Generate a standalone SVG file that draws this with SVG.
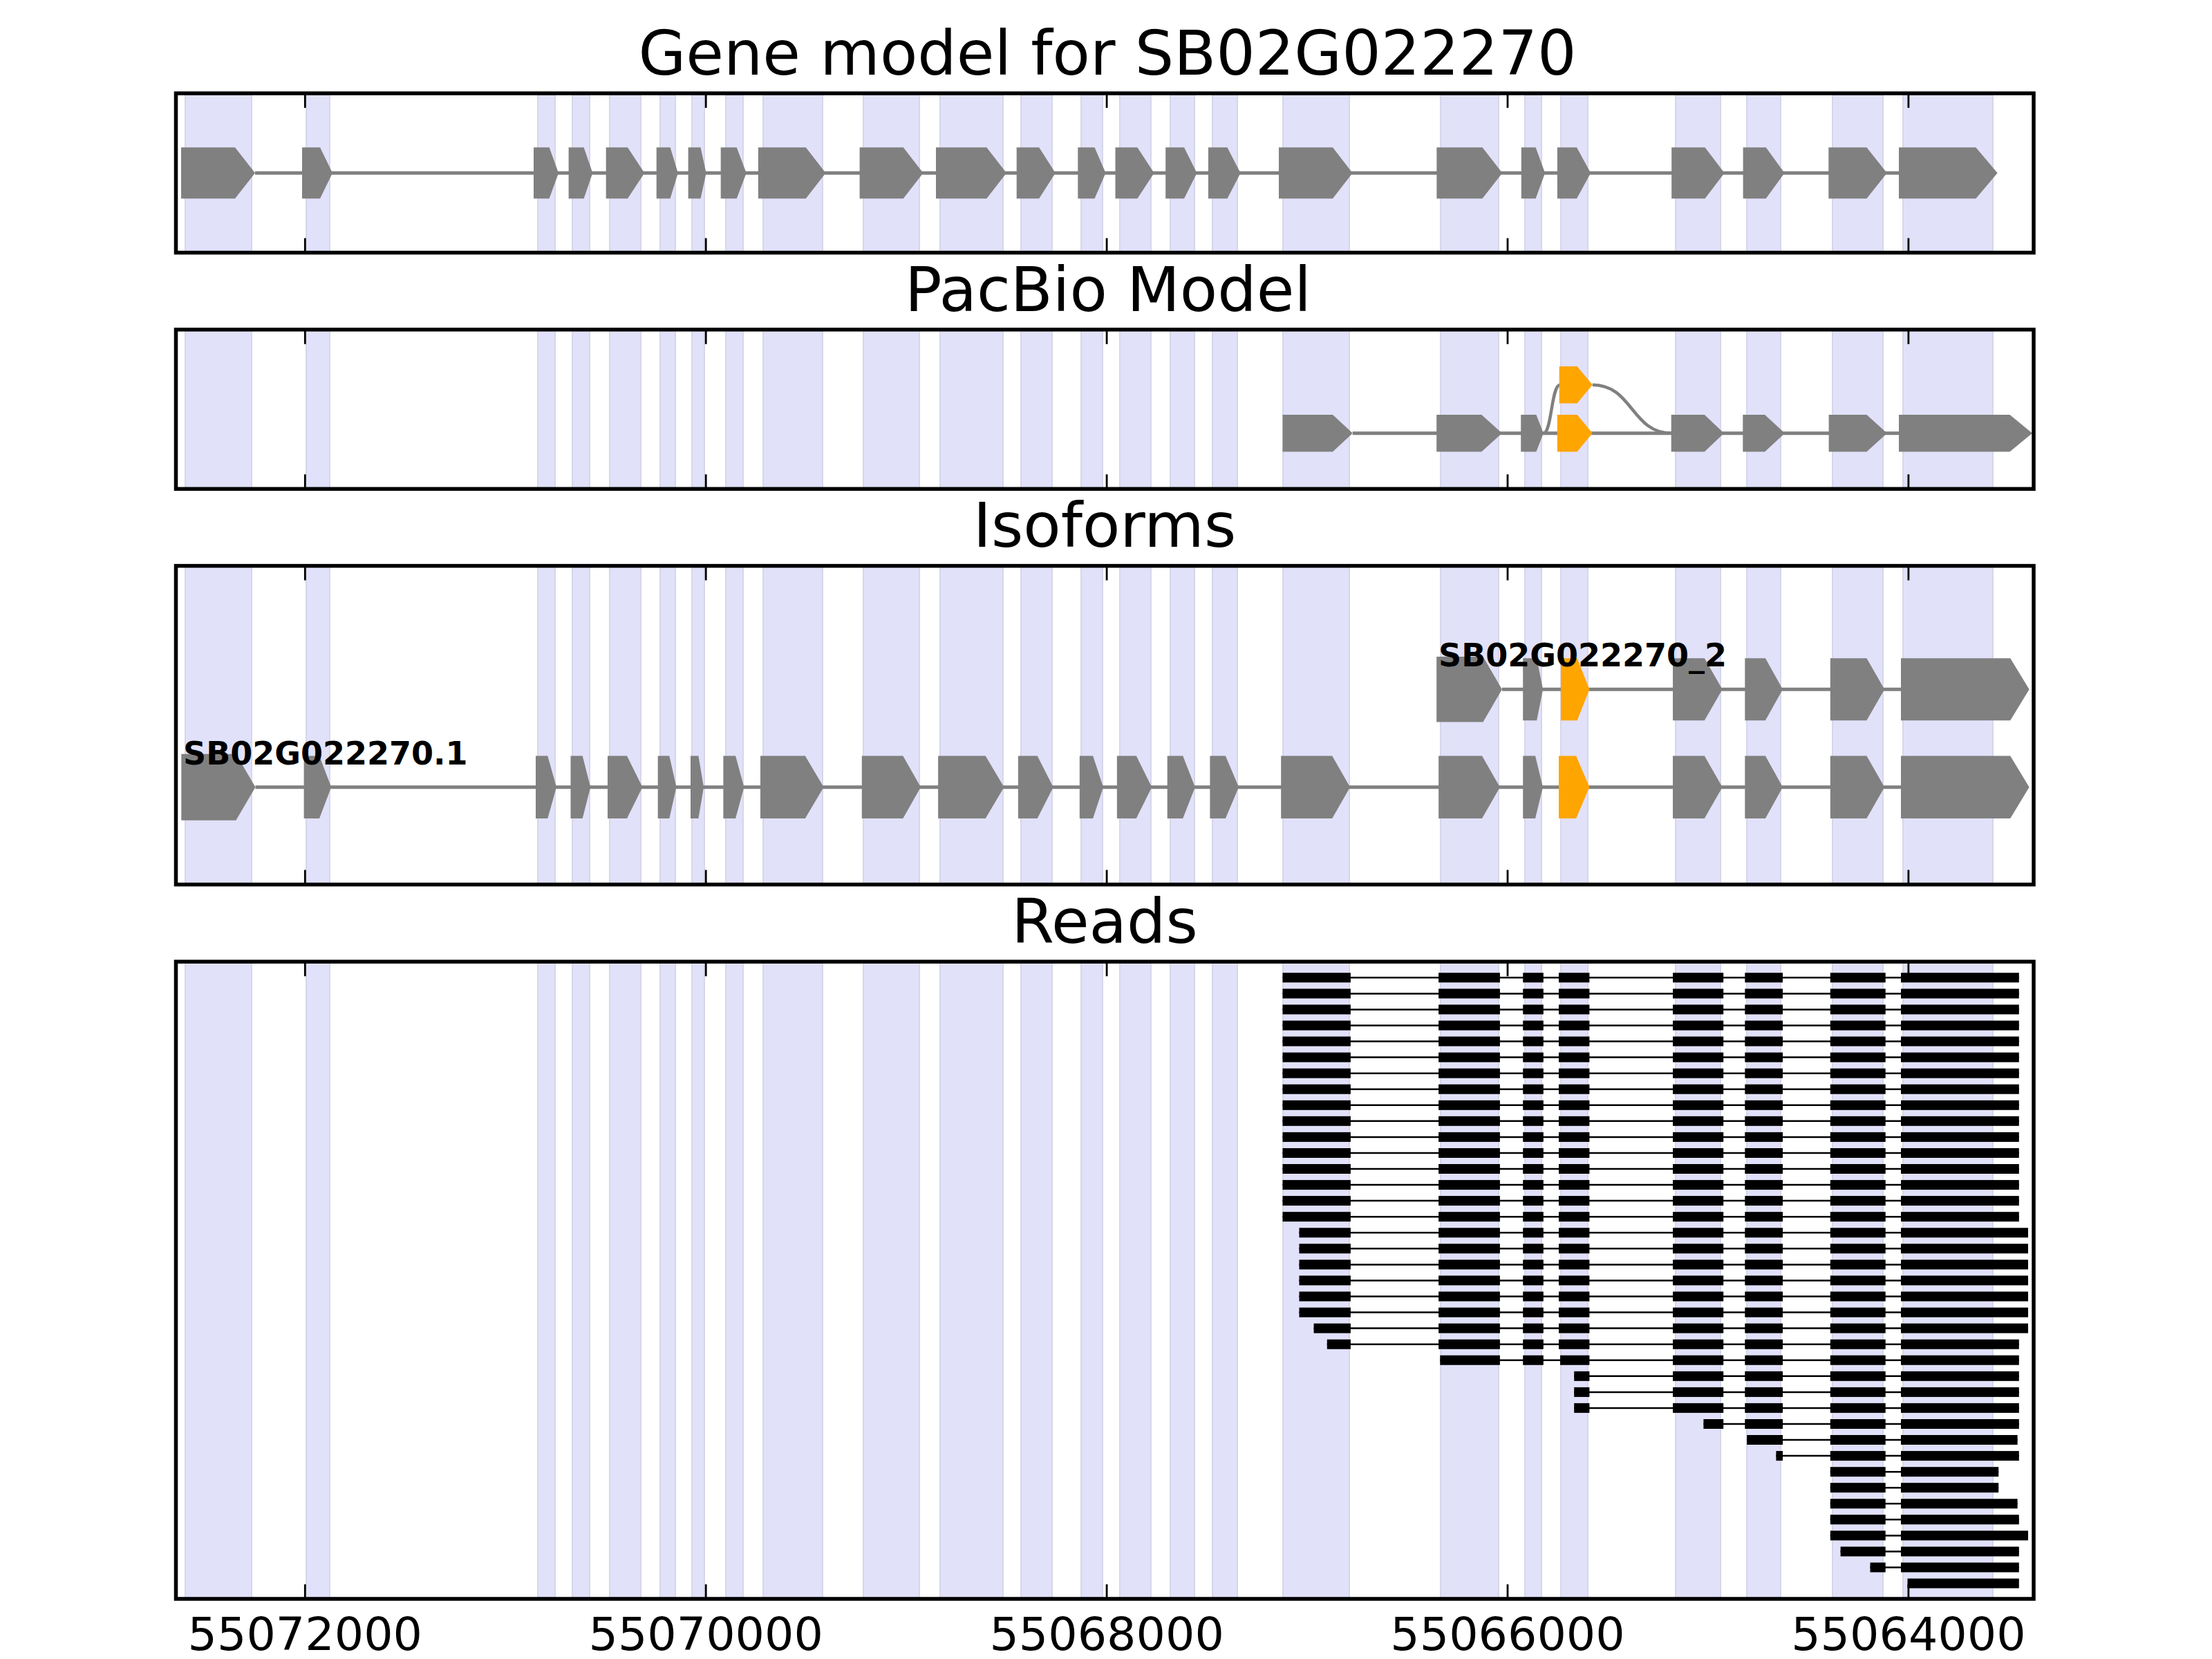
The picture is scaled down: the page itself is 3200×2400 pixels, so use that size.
<svg xmlns="http://www.w3.org/2000/svg" xmlns:xlink="http://www.w3.org/1999/xlink" width="3200" height="2400" viewBox="0 0 3200 2400">
<style>
.band{fill:#e1e1fa;stroke:#d6d6ea;stroke-width:2;vector-effect:non-scaling-stroke}
.ex{fill:#808080}
.ox{fill:#ffa500}
.gl{stroke:#808080;stroke-width:5;fill:none}
.rl{stroke:#000;stroke-width:2.5}
.frame{fill:none;stroke:#000;stroke-width:5.5}
.tick{stroke:#000;stroke-width:2.8;fill:none}
.title{font-family:"DejaVu Sans",sans-serif;font-size:88.9px;text-anchor:middle;fill:#000}
.tl{font-family:"DejaVu Sans",sans-serif;font-size:66.7px;text-anchor:middle;fill:#000}
.lab{font-family:"DejaVu Sans",sans-serif;font-size:46px;font-weight:bold;fill:#000}
</style>
<defs>
<g id="bands">
<rect class="band" x="268" y="0" width="96" height="1"/>
<rect class="band" x="443" y="0" width="34" height="1"/>
<rect class="band" x="778" y="0" width="25" height="1"/>
<rect class="band" x="828" y="0" width="25" height="1"/>
<rect class="band" x="882" y="0" width="45" height="1"/>
<rect class="band" x="955" y="0" width="22" height="1"/>
<rect class="band" x="1001" y="0" width="18" height="1"/>
<rect class="band" x="1050" y="0" width="25" height="1"/>
<rect class="band" x="1104" y="0" width="86" height="1"/>
<rect class="band" x="1249" y="0" width="81" height="1"/>
<rect class="band" x="1360" y="0" width="91" height="1"/>
<rect class="band" x="1477" y="0" width="45" height="1"/>
<rect class="band" x="1564" y="0" width="31" height="1"/>
<rect class="band" x="1620" y="0" width="45" height="1"/>
<rect class="band" x="1693" y="0" width="35" height="1"/>
<rect class="band" x="1754" y="0" width="36" height="1"/>
<rect class="band" x="1856" y="0" width="96" height="1"/>
<rect class="band" x="2084" y="0" width="84" height="1"/>
<rect class="band" x="2206" y="0" width="24" height="1"/>
<rect class="band" x="2258" y="0" width="39" height="1"/>
<rect class="band" x="2424" y="0" width="65" height="1"/>
<rect class="band" x="2527" y="0" width="49" height="1"/>
<rect class="band" x="2651" y="0" width="73" height="1"/>
<rect class="band" x="2753" y="0" width="130" height="1"/>
</g>
<g id="m2">
<rect x="2420" y="-7" width="73.2" height="14"/>
<rect x="2524.3" y="-7" width="54.7" height="14"/>
<rect x="2647.8" y="-7" width="79.9" height="14"/>
</g>
<g id="m">
<rect x="2081.1" y="-7" width="88.8" height="14"/>
<rect x="2203.2" y="-7" width="29.6" height="14"/>
<rect x="2255" y="-7" width="44.4" height="14"/>
<use xlink:href="#m2"/>
</g>
<g id="rA"><line class="rl" x1="1855.5" y1="0" x2="2920.8" y2="0"/><rect x="1855.5" y="-7" width="98.4" height="14"/><use xlink:href="#m"/><rect x="2750" y="-7" width="170.8" height="14"/></g>
<g id="rB"><line class="rl" x1="1879.5" y1="0" x2="2934" y2="0"/><rect x="1879.5" y="-7" width="74.4" height="14"/><use xlink:href="#m"/><rect x="2750" y="-7" width="184" height="14"/></g>
<g id="rC"><line class="rl" x1="1900.6" y1="0" x2="2934" y2="0"/><rect x="1900.6" y="-7" width="53.3" height="14"/><use xlink:href="#m"/><rect x="2750" y="-7" width="184" height="14"/></g>
<g id="rD"><line class="rl" x1="1919.8" y1="0" x2="2920.8" y2="0"/><rect x="1919.8" y="-7" width="34.1" height="14"/><use xlink:href="#m"/><rect x="2750" y="-7" width="170.8" height="14"/></g>
<g id="rE"><line class="rl" x1="2083.3" y1="0" x2="2920.8" y2="0"/><rect x="2083.3" y="-7" width="86.6" height="14"/><rect x="2203.2" y="-7" width="29.6" height="14"/><rect x="2257" y="-7" width="42.4" height="14"/><use xlink:href="#m2"/><rect x="2750" y="-7" width="170.8" height="14"/></g>
<g id="rF"><line class="rl" x1="2277.2" y1="0" x2="2920.8" y2="0"/><rect x="2277.2" y="-7" width="22.2" height="14"/><use xlink:href="#m2"/><rect x="2750" y="-7" width="170.8" height="14"/></g>
<g id="rG"><line class="rl" x1="2464.4" y1="0" x2="2920.8" y2="0"/><rect x="2464.4" y="-7" width="28.8" height="14"/><rect x="2524.3" y="-7" width="54.7" height="14"/><rect x="2647.8" y="-7" width="79.9" height="14"/><rect x="2750" y="-7" width="170.8" height="14"/></g>
<g id="rH"><line class="rl" x1="2527.2" y1="0" x2="2918.6" y2="0"/><rect x="2527.2" y="-7" width="51.8" height="14"/><rect x="2647.8" y="-7" width="79.9" height="14"/><rect x="2750" y="-7" width="168.6" height="14"/></g>
<g id="rI"><line class="rl" x1="2569.4" y1="0" x2="2920.8" y2="0"/><rect x="2569.4" y="-7" width="9.6" height="14"/><rect x="2647.8" y="-7" width="79.9" height="14"/><rect x="2750" y="-7" width="170.8" height="14"/></g>
<g id="rJ"><line class="rl" x1="2647.8" y1="0" x2="2891.2" y2="0"/><rect x="2647.8" y="-7" width="79.9" height="14"/><rect x="2750" y="-7" width="141.2" height="14"/></g>
<g id="rK"><line class="rl" x1="2647.8" y1="0" x2="2918.6" y2="0"/><rect x="2647.8" y="-7" width="79.9" height="14"/><rect x="2750" y="-7" width="168.6" height="14"/></g>
<g id="rL"><line class="rl" x1="2647.8" y1="0" x2="2920.8" y2="0"/><rect x="2647.8" y="-7" width="79.9" height="14"/><rect x="2750" y="-7" width="170.8" height="14"/></g>
<g id="rM"><line class="rl" x1="2647.8" y1="0" x2="2934" y2="0"/><rect x="2647.8" y="-7" width="79.9" height="14"/><rect x="2750" y="-7" width="184" height="14"/></g>
<g id="rN"><line class="rl" x1="2662.6" y1="0" x2="2920.8" y2="0"/><rect x="2662.6" y="-7" width="65.1" height="14"/><rect x="2750" y="-7" width="170.8" height="14"/></g>
<g id="rO"><line class="rl" x1="2705.5" y1="0" x2="2920.8" y2="0"/><rect x="2705.5" y="-7" width="22.2" height="14"/><rect x="2750" y="-7" width="170.8" height="14"/></g>
<g id="rP"><rect x="2759.5" y="-7" width="161.3" height="14"/></g>
</defs>
<rect x="0" y="0" width="3200" height="2400" fill="#fff"/>

<!-- Panel 1: Gene model -->
<g id="panel-gene-model">
<text class="title" x="1602" y="108">Gene model for SB02G022270</text>
<use xlink:href="#bands" transform="translate(0,135) scale(1,230.5)"/>
<line class="gl" x1="369" y1="250.3" x2="2747" y2="250.3"/>
<g class="ex">
<polygon points="262,213.3 340,213.3 369,250.3 340,287.3 262,287.3"/>
<polygon points="437,213.3 463,213.3 481,250.3 463,287.3 437,287.3"/>
<polygon points="772,213.3 794.6,213.3 808,250.3 794.6,287.3 772,287.3"/>
<polygon points="822.6,213.3 844.6,213.3 857.3,250.3 844.6,287.3 822.6,287.3"/>
<polygon points="876.7,213.3 908,213.3 932.3,250.3 908,287.3 876.7,287.3"/>
<polygon points="949.7,213.3 969.6,213.3 980.8,250.3 969.6,287.3 949.7,287.3"/>
<polygon points="995.6,213.3 1013.5,213.3 1021.6,250.3 1013.5,287.3 995.6,287.3"/>
<polygon points="1042.7,213.3 1065.7,213.3 1079.7,250.3 1065.7,287.3 1042.7,287.3"/>
<polygon points="1096.9,213.3 1165.8,213.3 1194.5,250.3 1165.8,287.3 1096.9,287.3"/>
<polygon points="1243.6,213.3 1306.8,213.3 1335.5,250.3 1306.8,287.3 1243.6,287.3"/>
<polygon points="1354,213.3 1427.3,213.3 1456,250.3 1427.3,287.3 1354,287.3"/>
<polygon points="1470.7,213.3 1503.2,213.3 1526.8,250.3 1503.2,287.3 1470.7,287.3"/>
<polygon points="1559.3,213.3 1583.5,213.3 1599.5,250.3 1583.5,287.3 1559.3,287.3"/>
<polygon points="1613.5,213.3 1645.4,213.3 1669.6,250.3 1645.4,287.3 1613.5,287.3"/>
<polygon points="1686.2,213.3 1713,213.3 1731.5,250.3 1713,287.3 1686.2,287.3"/>
<polygon points="1748,213.3 1775.5,213.3 1794.6,250.3 1775.5,287.3 1748,287.3"/>
<polygon points="1850,213.3 1928,213.3 1956.6,250.3 1928,287.3 1850,287.3"/>
<polygon points="2078.4,213.3 2144.5,213.3 2173.3,250.3 2144.5,287.3 2078.4,287.3"/>
<polygon points="2200.8,213.3 2221.6,213.3 2235.1,250.3 2221.6,287.3 2200.8,287.3"/>
<polygon points="2252.9,213.3 2281,213.3 2301.2,250.3 2281,287.3 2252.9,287.3"/>
<polygon points="2418.2,213.3 2466.5,213.3 2494.7,250.3 2466.5,287.3 2418.2,287.3"/>
<polygon points="2521.6,213.3 2554.7,213.3 2581.6,250.3 2554.7,287.3 2521.6,287.3"/>
<polygon points="2645.3,213.3 2700.4,213.3 2729.8,250.3 2700.4,287.3 2645.3,287.3"/>
<polygon points="2747,213.3 2858.4,213.3 2889.6,250.3 2858.4,287.3 2747,287.3"/>
</g>
<rect class="frame" x="254.5" y="135" width="2687.5" height="230.5"/>
<path class="tick" d="M441.3,135V156M1021.2,135V156M1601.1,135V156M2181,135V156M2760.9,135V156M441.3,365.5V344.5M1021.2,365.5V344.5M1601.1,365.5V344.5M2181,365.5V344.5M2760.9,365.5V344.5"/>
</g>

<!-- Panel 2: PacBio Model -->
<g id="panel-pacbio">
<text class="title" x="1603" y="449.5">PacBio Model</text>
<use xlink:href="#bands" transform="translate(0,476.8) scale(1,230.5)"/>
<g id="pacbio-connectors">
<line class="gl" x1="1956.8" y1="626.7" x2="2747" y2="626.7"/>
<path class="gl" style="stroke-width:4.5" d="M2232.8,626.7 C2245,626.7 2244,556.7 2257,556.7"/>
<path class="gl" style="stroke-width:4.5" d="M2303.8,556.7 C2362,556.7 2360,626.7 2418,626.7"/>
</g>
<g class="ex">
<polygon points="1855.5,600 1928,600 1956.8,626.7 1928,653.4 1855.5,653.4"/>
<polygon points="2078.2,600 2143.3,600 2172.9,626.7 2143.3,653.4 2078.2,653.4"/>
<polygon points="2200.2,600 2222.4,600 2232.8,626.7 2222.4,653.4 2200.2,653.4"/>
<polygon points="2417.7,600 2465.8,600 2494,626.7 2465.8,653.4 2417.7,653.4"/>
<polygon points="2521.3,600 2553.1,600 2582,626.7 2553.1,653.4 2521.3,653.4"/>
<polygon points="2645.6,600 2700.4,600 2730,626.7 2700.4,653.4 2645.6,653.4"/>
<polygon points="2747,600 2907.5,600 2940,626.7 2907.5,653.4 2747,653.4"/>
</g>
<g class="ox">
<polygon points="2252.8,600 2281.6,600 2303.8,626.7 2281.6,653.4 2252.8,653.4"/>
<polygon points="2255.7,530 2281.6,530 2303.8,556.7 2281.6,583.4 2255.7,583.4"/>
</g>
<rect class="frame" x="254.5" y="476.8" width="2687.5" height="230.5"/>
<path class="tick" d="M441.3,476.8V497.8M1021.2,476.8V497.8M1601.1,476.8V497.8M2181,476.8V497.8M2760.9,476.8V497.8M441.3,707.3V686.3M1021.2,707.3V686.3M1601.1,707.3V686.3M2181,707.3V686.3M2760.9,707.3V686.3"/>
</g>

<!-- Panel 3: Isoforms -->
<g id="panel-isoforms">
<text class="title" x="1598" y="791.3">Isoforms</text>
<use xlink:href="#bands" transform="translate(0,818.6) scale(1,461)"/>
<g id="isoform-2">
<line class="gl" x1="2172.9" y1="997.3" x2="2750" y2="997.3"/>
<g class="ex">
<polygon points="2078.2,950 2145.5,950 2172.9,997.3 2145.5,1044.6 2078.2,1044.6"/>
<polygon points="2203.2,952.3 2223.2,952.3 2232.1,997.3 2223.2,1042.3 2203.2,1042.3"/>
<polygon points="2420,952.3 2465.8,952.3 2491.7,997.3 2465.8,1042.3 2420,1042.3"/>
<polygon points="2524.3,952.3 2553.9,952.3 2579,997.3 2553.9,1042.3 2524.3,1042.3"/>
<polygon points="2647.8,952.3 2700.4,952.3 2726.2,997.3 2700.4,1042.3 2647.8,1042.3"/>
<polygon points="2750,952.3 2908.2,952.3 2935.6,997.3 2908.2,1042.3 2750,1042.3"/>
</g>
<polygon class="ox" points="2258,952.3 2281.6,952.3 2299.4,997.3 2281.6,1042.3 2258,1042.3"/>
<text class="lab" x="2081" y="964">SB02G022270_2</text>
</g>
<g id="isoform-1">
<line class="gl" x1="369.5" y1="1138.7" x2="2750" y2="1138.7"/>
<g class="ex">
<polygon points="262.3,1090.7 341.4,1090.7 369.5,1138.7 341.4,1186.7 262.3,1186.7"/>
<polygon points="439.6,1093.4 462,1093.4 479.2,1138.7 462,1184 439.6,1184"/>
<polygon points="775,1093.4 792.3,1093.4 805,1138.7 792.3,1184 775,1184"/>
<polygon points="825.5,1093.4 842.7,1093.4 854.2,1138.7 842.7,1184 825.5,1184"/>
<polygon points="879,1093.4 907,1093.4 929.4,1138.7 907,1184 879,1184"/>
<polygon points="951.7,1093.4 968.3,1093.4 978.5,1138.7 968.3,1184 951.7,1184"/>
<polygon points="999,1093.4 1010.4,1093.4 1018,1138.7 1010.4,1184 999,1184"/>
<polygon points="1046.4,1093.4 1064.1,1093.4 1076.4,1138.7 1064.1,1184 1046.4,1184"/>
<polygon points="1100,1093.4 1164.8,1093.4 1191.6,1138.7 1164.8,1184 1100,1184"/>
<polygon points="1246.8,1093.4 1306.3,1093.4 1332,1138.7 1306.3,1184 1246.8,1184"/>
<polygon points="1357.1,1093.4 1425.7,1093.4 1452.5,1138.7 1425.7,1184 1357.1,1184"/>
<polygon points="1472.9,1093.4 1500.7,1093.4 1523.7,1138.7 1500.7,1184 1472.9,1184"/>
<polygon points="1561.8,1093.4 1581.1,1093.4 1596.1,1138.7 1581.1,1184 1561.8,1184"/>
<polygon points="1615.9,1093.4 1643.8,1093.4 1666.3,1138.7 1643.8,1184 1615.9,1184"/>
<polygon points="1688.7,1093.4 1711.2,1093.4 1728.9,1138.7 1711.2,1184 1688.7,1184"/>
<polygon points="1750.4,1093.4 1772.9,1093.4 1792.1,1138.7 1772.9,1184 1750.4,1184"/>
<polygon points="1853.2,1093.4 1927.2,1093.4 1953.1,1138.7 1927.2,1184 1853.2,1184"/>
<polygon points="2081.1,1093.4 2144,1093.4 2169.9,1138.7 2144,1184 2081.1,1184"/>
<polygon points="2203.2,1093.4 2221,1093.4 2232,1138.7 2221,1184 2203.2,1184"/>
<polygon points="2420,1093.4 2465.8,1093.4 2491.7,1138.7 2465.8,1184 2420,1184"/>
<polygon points="2524.3,1093.4 2553.9,1093.4 2579,1138.7 2553.9,1184 2524.3,1184"/>
<polygon points="2647.8,1093.4 2700.4,1093.4 2726.2,1138.7 2700.4,1184 2647.8,1184"/>
<polygon points="2750,1093.4 2908.2,1093.4 2935.6,1138.7 2908.2,1184 2750,1184"/>
</g>
<polygon class="ox" points="2255,1093.4 2280.1,1093.4 2299.4,1138.7 2280.1,1184 2255,1184"/>
<text class="lab" x="265" y="1106">SB02G022270.1</text>
</g>
<rect class="frame" x="254.5" y="818.6" width="2687.5" height="461"/>
<path class="tick" d="M441.3,818.6V839.6M1021.2,818.6V839.6M1601.1,818.6V839.6M2181,818.6V839.6M2760.9,818.6V839.6M441.3,1279.6V1258.6M1021.2,1279.6V1258.6M1601.1,1279.6V1258.6M2181,1279.6V1258.6M2760.9,1279.6V1258.6"/>
</g>

<!-- Panel 4: Reads -->
<g id="panel-reads">
<text class="title" x="1598" y="1364">Reads</text>
<use xlink:href="#bands" transform="translate(0,1391.2) scale(1,921.8)"/>
<g id="reads" fill="#000">
<use xlink:href="#rA" y="1414.3"/>
<use xlink:href="#rA" y="1437.4"/>
<use xlink:href="#rA" y="1460.4"/>
<use xlink:href="#rA" y="1483.5"/>
<use xlink:href="#rA" y="1506.5"/>
<use xlink:href="#rA" y="1529.6"/>
<use xlink:href="#rA" y="1552.7"/>
<use xlink:href="#rA" y="1575.7"/>
<use xlink:href="#rA" y="1598.8"/>
<use xlink:href="#rA" y="1621.8"/>
<use xlink:href="#rA" y="1644.9"/>
<use xlink:href="#rA" y="1668"/>
<use xlink:href="#rA" y="1691"/>
<use xlink:href="#rA" y="1714.1"/>
<use xlink:href="#rA" y="1737.1"/>
<use xlink:href="#rA" y="1760.2"/>
<use xlink:href="#rB" y="1783.3"/>
<use xlink:href="#rB" y="1806.3"/>
<use xlink:href="#rB" y="1829.4"/>
<use xlink:href="#rB" y="1852.4"/>
<use xlink:href="#rB" y="1875.5"/>
<use xlink:href="#rB" y="1898.6"/>
<use xlink:href="#rC" y="1921.6"/>
<use xlink:href="#rD" y="1944.7"/>
<use xlink:href="#rE" y="1967.7"/>
<use xlink:href="#rF" y="1990.8"/>
<use xlink:href="#rF" y="2013.9"/>
<use xlink:href="#rF" y="2036.9"/>
<use xlink:href="#rG" y="2060"/>
<use xlink:href="#rH" y="2083"/>
<use xlink:href="#rI" y="2106.1"/>
<use xlink:href="#rJ" y="2129.2"/>
<use xlink:href="#rJ" y="2152.2"/>
<use xlink:href="#rK" y="2175.3"/>
<use xlink:href="#rL" y="2198.3"/>
<use xlink:href="#rM" y="2221.4"/>
<use xlink:href="#rN" y="2244.5"/>
<use xlink:href="#rO" y="2267.5"/>
<use xlink:href="#rP" y="2290.6"/>
</g>
<rect class="frame" x="254.5" y="1391.2" width="2687.5" height="921.8"/>
<path class="tick" d="M441.3,1391.2V1412.2M1021.2,1391.2V1412.2M1601.1,1391.2V1412.2M2181,1391.2V1412.2M2760.9,1391.2V1412.2M441.3,2313V2292M1021.2,2313V2292M1601.1,2313V2292M2181,2313V2292M2760.9,2313V2292"/>
</g>

<g id="x-axis-labels">
<text class="tl" x="441.3" y="2386.7">55072000</text>
<text class="tl" x="1021.2" y="2386.7">55070000</text>
<text class="tl" x="1601.1" y="2386.7">55068000</text>
<text class="tl" x="2181" y="2386.7">55066000</text>
<text class="tl" x="2760.9" y="2386.7">55064000</text>
</g>
</svg>
